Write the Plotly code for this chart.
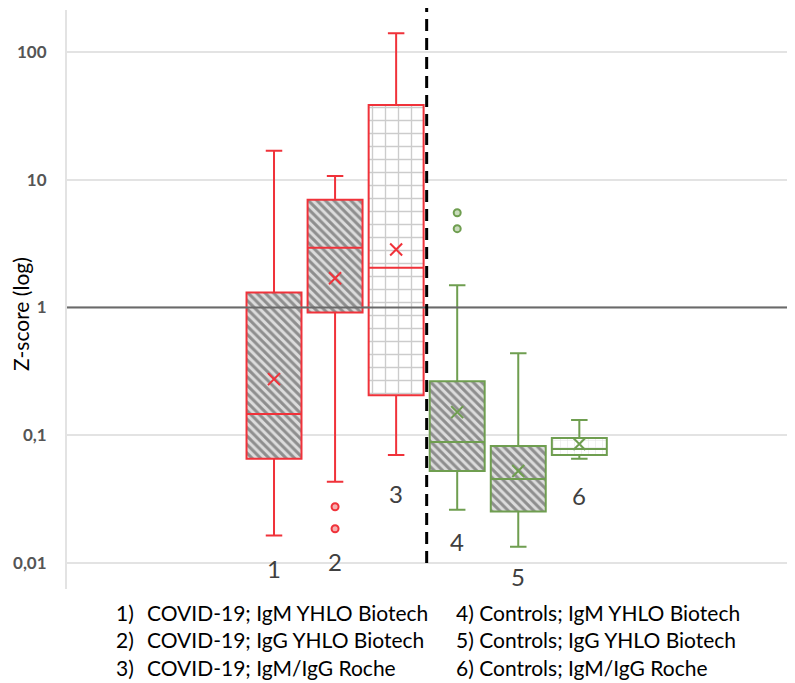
import numpy as np
import plotly.graph_objects as go

# ---- data ----
positions = [1, 2, 3, 4, 5, 6]
box_labels = ["1", "2", "3", "4", "5", "6"]
lower_whisker = [0.0163, 0.043, 0.0698, 0.026, 0.0133, 0.065]
q1 = [0.065, 0.914, 0.205, 0.0523, 0.0251, 0.0698]
median = [0.146, 2.94, 2.05, 0.088, 0.0453, 0.0778]
q3 = [1.31, 6.98, 38.5, 0.264, 0.082, 0.0948]
upper_whisker = [16.9, 10.7, 140.7, 1.49, 0.437, 0.131]
mean = [0.274, 1.69, 2.84, 0.151, 0.0523, 0.085]
outlier_x = [2, 2, 4, 4]
outlier_y = [0.0274, 0.0184, 5.52, 4.14]
legend_nums = ["1)", "2)", "3)"]
legend_left = ["COVID-19; IgM YHLO Biotech", "COVID-19; IgG YHLO Biotech", "COVID-19; IgM/IgG Roche"]
legend_right = ["4) Controls; IgM YHLO Biotech", "5) Controls; IgG YHLO Biotech", "6) Controls; IgM/IgG Roche"]
tick_vals = [0.01, 0.1, 1, 10, 100]
tick_text = ["0,01", "0,1", "1", "10", "100"]

RED = "#f0323a"
GREEN = "#6f9e50"
colors = [RED, RED, RED, GREEN, GREEN, GREEN]
hatch = dict(shape="\\", fgcolor="#3f3f3f", bgcolor="#dcdcdc", size=6, solidity=0.5)
patterns = [
    hatch, hatch,
    dict(shape="+", fgcolor="#9a9a9a", bgcolor="#ffffff", size=13, solidity=0.2),
    hatch, hatch,
    dict(shape="+", fgcolor="#c8c8c8", bgcolor="#ffffff", size=7, solidity=0.15),
]

# The page body adds an 8px offset; the figure is sized to fill the rest.
OFF = 8
W, H = 795 - OFF, 683 - OFF
L, R, T, B = 67 - OFF, 5, 10 - OFF, 94
pw, ph = W - L - R, H - T - B


def px_x(px):  # page pixel -> paper x
    return (px - OFF - L) / pw


def px_y(py):  # page pixel -> paper y
    return (H - B - (py - OFF)) / ph


fig = go.Figure()

# hatched fills (box bodies)
for i in range(6):
    fig.add_trace(go.Bar(
        x=[positions[i]], base=[q1[i]], y=[q3[i] - q1[i]], width=0.9,
        marker=dict(color="#ffffff", pattern=patterns[i], line=dict(width=0)),
        showlegend=False, hoverinfo="skip"))

# box outlines, whiskers, medians
for i in range(6):
    fig.add_trace(go.Box(
        x=[positions[i]], q1=[q1[i]], median=[median[i]], q3=[q3[i]],
        lowerfence=[lower_whisker[i]], upperfence=[upper_whisker[i]],
        width=0.9, whiskerwidth=0.3, fillcolor="rgba(0,0,0,0)",
        line=dict(color=colors[i], width=2), showlegend=False))

# means
fig.add_trace(go.Scatter(
    x=positions, y=mean, mode="markers", showlegend=False,
    marker=dict(symbol="x-thin", size=12, line=dict(width=2, color=colors))))

# outliers
fig.add_trace(go.Scatter(
    x=outlier_x, y=outlier_y, mode="markers", showlegend=False,
    marker=dict(symbol="circle", size=7,
                color=["#f6b0b0", "#f6b0b0", "#c9dcbc", "#c9dcbc"],
                line=dict(width=2, color=[RED, RED, GREEN, GREEN]))))

# box numbers
label_y = [0.00897, 0.0102, 0.0346, 0.0146, 0.00778, 0.0334]
for i in range(6):
    fig.add_annotation(x=positions[i], y=np.log10(label_y[i]), xref="x", yref="y",
                       text=box_labels[i], showarrow=False,
                       font=dict(family="Lato", size=24, color="#404040"))

# reference line at 1 and dashed separator
fig.add_shape(type="line", xref="paper", yref="y", x0=0, x1=px_x(795), y0=1, y1=1,
              line=dict(color="#6a6a6a", width=2), layer="above")
fig.add_shape(type="line", xref="x", yref="paper", x0=3.5, x1=3.5,
              y0=px_y(563), y1=px_y(OFF),
              line=dict(color="#000000", width=3, dash="12px,7px"), layer="above")

# y-axis title
fig.add_annotation(xref="paper", yref="paper", x=px_x(21), y=px_y(314),
                   text="Z-score (log)", textangle=-90, showarrow=False,
                   xanchor="center", yanchor="middle",
                   font=dict(family="Lato", size=21, color="#000000"))

# legend text
rows_y = [612, 639, 667]
for k in range(3):
    py = px_y(rows_y[k])
    fnt = dict(family="Lato", size=21, color="#000000")
    fig.add_annotation(xref="paper", yref="paper", x=px_x(114), y=py,
                       xanchor="left", yanchor="middle", showarrow=False,
                       text=legend_nums[k], font=fnt)
    fig.add_annotation(xref="paper", yref="paper", x=px_x(145), y=py,
                       xanchor="left", yanchor="middle", showarrow=False,
                       text=legend_left[k], font=fnt)
    fig.add_annotation(xref="paper", yref="paper", x=px_x(454), y=py,
                       xanchor="left", yanchor="middle", showarrow=False,
                       text=legend_right[k], font=fnt)

fig.update_layout(
    width=W, height=H, margin=dict(l=L, r=R, t=T, b=B, autoexpand=False),
    paper_bgcolor="white", plot_bgcolor="white", barmode="overlay",
    showlegend=False,
    xaxis=dict(range=[-2.39, 9.45], showgrid=False, zeroline=False, automargin=False,
               showticklabels=False, showline=False),
    yaxis=dict(type="log", range=[-2.207, 2.331], tickvals=tick_vals, ticktext=tick_text,
               showgrid=True, gridcolor="#e3e3e3", gridwidth=1.5, automargin=False,
               showline=True, linecolor="#e3e3e3", linewidth=2,
               ticks="", ticklabelstandoff=15, zeroline=False,
               tickfont=dict(family="Lato", size=17, color="#555555", weight="bold")),
)

fig.write_html("out.html")
